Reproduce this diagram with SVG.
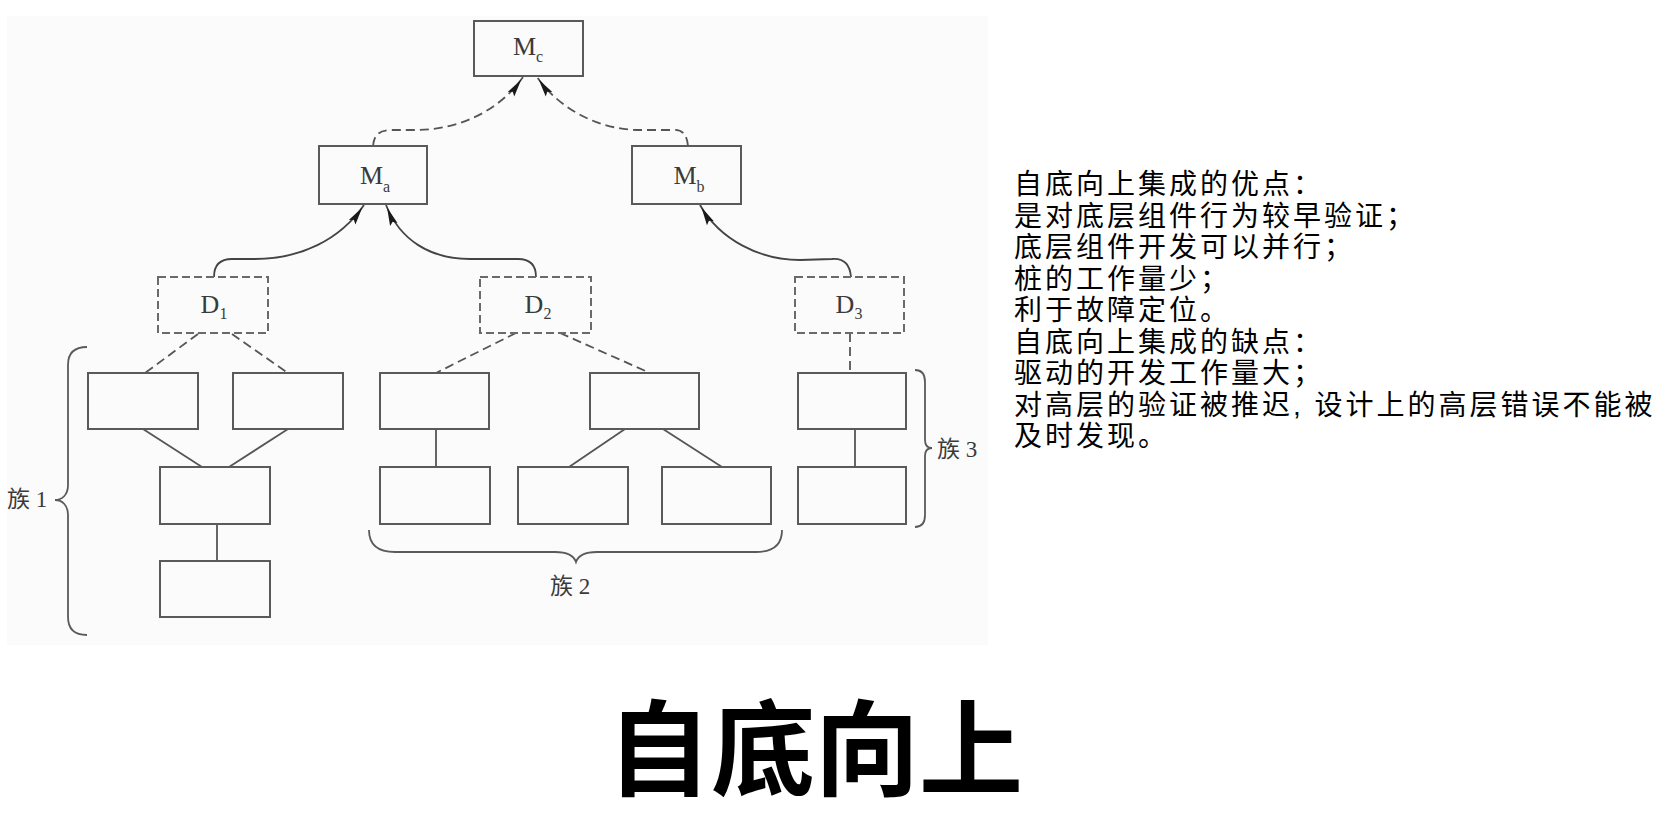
<svg xmlns="http://www.w3.org/2000/svg" width="1677" height="821" viewBox="0 0 1677 821">
<style>
.box{fill:none;stroke:#5a5a5a;stroke-width:2}
.dbox{fill:none;stroke:#6a6a6a;stroke-width:2;stroke-dasharray:8 4}
.lab{font-family:"Liberation Serif","Noto Sans CJK SC",serif;font-size:26px;fill:#3a3a3a}
.sub{font-size:16px}
.solid{fill:none;stroke:#555;stroke-width:1.8}
.dash{fill:none;stroke:#555;stroke-width:1.8;stroke-dasharray:9 5}
.arr{fill:none;stroke:#444;stroke-width:1.8}
.brace{fill:none;stroke:#5a5a5a;stroke-width:1.8}
.fam{font-family:"Liberation Serif","Noto Sans CJK SC",serif;font-size:23px;fill:#3a3a3a}
.note{font-family:"Liberation Sans","Noto Sans CJK SC",sans-serif;font-size:28px;letter-spacing:3px;fill:#000}
.title{font-family:"Noto Sans CJK SC",sans-serif;font-size:104px;font-weight:bold;fill:#000}
</style>
<defs>
<marker id="ah" markerUnits="userSpaceOnUse" markerWidth="18" markerHeight="9" viewBox="0 0 18 9" refX="21" refY="4.5" orient="auto" overflow="visible">
<path d="M0,0.5 L18,4.5 L0,8.5 L3,4.5 z" fill="#1a1a1a"/>
</marker>
</defs>
<rect x="7" y="16" width="981" height="629" fill="#fbfbfb"/>

<g id="connectors">
<path class="dash" d="M373,146 C374,134 380,130 392,130 L415,130 C460,130 500,110 523,77" marker-end="url(#ah)"/>
<path class="dash" d="M688,146 C687,134 682,129 672,130 L640,130 C600,130 560,110 537,77" marker-end="url(#ah)"/>
<path class="arr" d="M214,277 C214,265 220,259 232,259 L255,259 C300,259 340,240 364,205" marker-end="url(#ah)"/>
<path class="arr" d="M536,277 C536,265 530,259 518,259 L470,259 C430,259 400,240 386,205" marker-end="url(#ah)"/>
<path class="arr" d="M851,277 C850,265 845,258 832,259 L800,260 C760,260 720,240 700,205" marker-end="url(#ah)"/>
<line class="dash" x1="198" y1="334" x2="145" y2="373"/>
<line class="dash" x1="232" y1="334" x2="288" y2="373"/>
<line class="dash" x1="516" y1="333" x2="436" y2="373"/>
<line class="dash" x1="560" y1="333" x2="650" y2="373"/>
<line class="dash" x1="850" y1="333" x2="850" y2="373"/>
<line class="solid" x1="143" y1="429" x2="202" y2="467"/>
<line class="solid" x1="288" y1="429" x2="229" y2="467"/>
<line class="solid" x1="217" y1="524" x2="217" y2="561"/>
<line class="solid" x1="436" y1="429" x2="436" y2="467"/>
<line class="solid" x1="625" y1="429" x2="569" y2="467"/>
<line class="solid" x1="663" y1="429" x2="722" y2="467"/>
<line class="solid" x1="855" y1="429" x2="855" y2="467"/>
</g>

<g id="Mc"><rect class="box" x="474" y="21" width="109" height="55"/><text class="lab" x="528" y="55" text-anchor="middle">M<tspan class="sub" dy="7">c</tspan></text></g>
<g id="Ma"><rect class="box" x="319" y="146" width="108" height="58"/><text class="lab" x="375" y="184" text-anchor="middle">M<tspan class="sub" dy="8">a</tspan></text></g>
<g id="Mb"><rect class="box" x="632" y="146" width="109" height="58"/><text class="lab" x="689" y="184" text-anchor="middle">M<tspan class="sub" dy="8">b</tspan></text></g>
<g id="D1"><rect class="dbox" x="158" y="277" width="110" height="56"/><text class="lab" x="214" y="313" text-anchor="middle">D<tspan class="sub" dy="6">1</tspan></text></g>
<g id="D2"><rect class="dbox" x="480" y="277" width="111" height="56"/><text class="lab" x="538" y="313" text-anchor="middle">D<tspan class="sub" dy="6">2</tspan></text></g>
<g id="D3"><rect class="dbox" x="795" y="277" width="109" height="56"/><text class="lab" x="849" y="313" text-anchor="middle">D<tspan class="sub" dy="6">3</tspan></text></g>

<g id="c1a"><rect class="box" x="88" y="373" width="110" height="56"/></g>
<g id="c1b"><rect class="box" x="233" y="373" width="110" height="56"/></g>
<g id="c1c"><rect class="box" x="160" y="467" width="110" height="57"/></g>
<g id="c1d"><rect class="box" x="160" y="561" width="110" height="56"/></g>
<g id="c2a"><rect class="box" x="380" y="373" width="109" height="56"/></g>
<g id="c2b"><rect class="box" x="590" y="373" width="109" height="56"/></g>
<g id="c2c"><rect class="box" x="380" y="467" width="110" height="57"/></g>
<g id="c2d"><rect class="box" x="518" y="467" width="110" height="57"/></g>
<g id="c2e"><rect class="box" x="662" y="467" width="109" height="57"/></g>
<g id="c3a"><rect class="box" x="798" y="373" width="108" height="56"/></g>
<g id="c3b"><rect class="box" x="798" y="467" width="108" height="57"/></g>

<g id="family1">
<path class="brace" d="M87,347 C75,347 68,352 68,365 L68,485 C68,495 62,500 55,500 C62,500 68,505 68,515 L68,617 C68,630 75,635 87,635"/>
<text class="fam" x="7" y="507">族 1</text>
</g>
<g id="family2">
<path class="brace" d="M369,530 C369,545 378,552 395,552 L555,552 C568,552 574,556 576,562 C578,556 584,552 597,552 L756,552 C773,552 782,545 782,530"/>
<text class="fam" x="550" y="594">族 2</text>
</g>
<g id="family3">
<path class="brace" d="M915,370 C922,370 925,374 925,382 L925,440 C925,446 928,448 932,448 C928,448 925,450 925,456 L925,515 C925,523 922,527 915,527"/>
<text class="fam" x="937" y="457">族 3</text>
</g>

<g id="notes">
<text class="note" x="1014" y="194">自底向上集成的优点：</text>
<text class="note" x="1014" y="225.5">是对底层组件行为较早验证；</text>
<text class="note" x="1014" y="257">底层组件开发可以并行；</text>
<text class="note" x="1014" y="288.5">桩的工作量少；</text>
<text class="note" x="1014" y="320">利于故障定位。</text>
<text class="note" x="1014" y="351.5">自底向上集成的缺点：</text>
<text class="note" x="1014" y="383">驱动的开发工作量大；</text>
<text class="note" x="1014" y="414.5">对高层的验证被推迟, 设计上的高层错误不能被</text>
<text class="note" x="1014" y="446">及时发现。</text>
</g>

<text id="title" class="title" x="815" y="788" text-anchor="middle">自底向上</text>
</svg>
